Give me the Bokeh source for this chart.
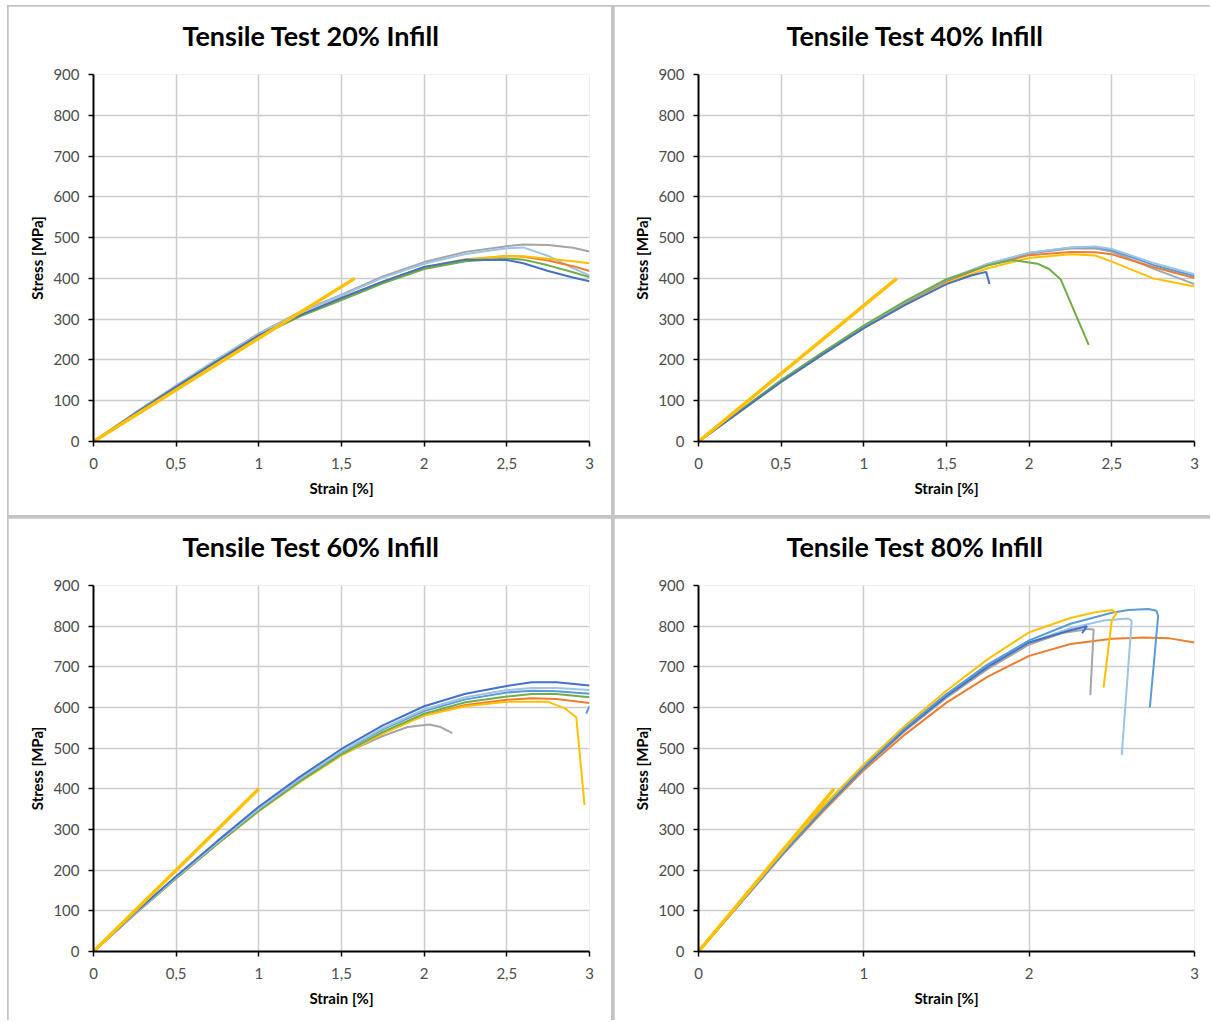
from bokeh.plotting import figure
from bokeh.layouts import gridplot
from bokeh.models import Range1d, FixedTicker, Title
from bokeh.embed import file_html
from bokeh.resources import INLINE

# ---------------- data ----------------
# Panel 20 % infill
p20_strain = [0, 0.25, 0.5, 0.75, 1.0, 1.25, 1.5, 1.75, 2.0, 2.25, 2.5, 2.6, 2.75, 2.9, 3.0]
p20_gray = [0, 70, 137, 202, 265, 318, 360, 405, 440, 465, 479, 483, 482, 475, 466]
p20_lightblue = [0, 70, 137, 202, 264, 316, 358, 402, 436, 460, 474, 476, 455, 425, 407]
p20_orange = [0, 68, 134, 198, 260, 310, 352, 392, 427, 446, 455, 453, 444, 430, 418]
p20_green = [0, 68, 133, 197, 258, 307, 347, 388, 423, 442, 449, 446, 432, 415, 403]
p20_yellow = [0, 68, 134, 198, 260, 310, 352, 392, 428, 447, 455, 454, 448, 442, 437]
p20_blue = [0, 68, 134, 198, 260, 310, 352, 392, 428, 446, 445, 437, 418, 402, 393]
p20_fit_strain = [0, 1.58]
p20_fit = [0, 400]

# Panel 40 % infill
p40_strain = [0, 0.25, 0.5, 0.75, 1.0, 1.25, 1.5, 1.75, 2.0, 2.25, 2.4, 2.5, 2.75, 3.0]
p40_lightblue = [0, 75, 150, 218, 283, 343, 397, 436, 463, 476, 478, 472, 438, 410]
p40_midblue = [0, 75, 150, 218, 283, 342, 396, 435, 462, 475, 477, 469, 433, 406]
p40_orange = [0, 74, 148, 216, 281, 340, 393, 432, 457, 465, 464, 459, 428, 401]
p40_gray = [0, 74, 148, 216, 281, 341, 395, 435, 461, 473, 473, 466, 424, 386]
p40_yellow = [0, 73, 146, 213, 278, 335, 388, 425, 450, 459, 456, 441, 400, 380]
p40_green_strain = [0, 0.25, 0.5, 0.75, 1.0, 1.25, 1.5, 1.75, 1.9, 2.05, 2.12, 2.19, 2.36]
p40_green = [0, 75, 150, 218, 284, 344, 398, 432, 445, 436, 423, 398, 237]
p40_blue_strain = [0, 0.25, 0.5, 0.75, 1.0, 1.25, 1.5, 1.65, 1.74, 1.76]
p40_blue = [0, 73, 146, 213, 278, 335, 386, 407, 416, 386]
p40_fit_strain = [0, 1.2]
p40_fit = [0, 400]

# Panel 60 % infill
p60_strain = [0, 0.25, 0.5, 0.75, 1.0, 1.25, 1.5, 1.75, 2.0, 2.25, 2.5, 2.65, 2.8, 3.0]
p60_blue = [0, 95, 185, 272, 356, 430, 498, 556, 603, 634, 653, 662, 662, 654]
p60_lightblue = [0, 93, 182, 268, 351, 425, 492, 549, 595, 625, 643, 648, 648, 643]
p60_midblue = [0, 93, 182, 268, 350, 424, 490, 546, 591, 620, 637, 641, 640, 634]
p60_green = [0, 92, 180, 265, 346, 419, 485, 540, 585, 613, 627, 633, 633, 625]
p60_orange = [0, 92, 180, 265, 346, 419, 485, 538, 581, 606, 619, 623, 621, 611]
p60_yellow_strain = [0, 0.25, 0.5, 0.75, 1.0, 1.25, 1.5, 1.75, 2.0, 2.25, 2.5, 2.75, 2.85, 2.92, 2.97]
p60_yellow = [0, 92, 180, 265, 345, 417, 482, 536, 580, 603, 614, 614, 598, 576, 360]
p60_gray_strain = [0, 0.25, 0.5, 0.75, 1.0, 1.25, 1.5, 1.75, 1.9, 2.03, 2.1, 2.17]
p60_gray = [0, 92, 180, 265, 346, 418, 484, 530, 552, 558, 552, 537]
p60_hook_strain = [2.98, 3.0]
p60_hook = [585, 603]
p60_fit_strain = [0, 1.0]
p60_fit = [0, 400]

# Panel 80 % infill
p80_orange_strain = [0, 0.25, 0.5, 0.75, 1.0, 1.25, 1.5, 1.75, 2.0, 2.25, 2.5, 2.7, 2.85, 3.0]
p80_orange = [0, 117, 234, 343, 446, 534, 612, 676, 727, 756, 769, 772, 770, 760]
p80_gray_strain = [0, 0.25, 0.5, 0.75, 1.0, 1.25, 1.5, 1.75, 2.0, 2.2, 2.36, 2.39, 2.37]
p80_gray = [0, 117, 235, 347, 450, 543, 624, 695, 755, 783, 793, 792, 630]
p80_lightblue_strain = [0, 0.25, 0.5, 0.75, 1.0, 1.25, 1.5, 1.75, 2.0, 2.25, 2.45, 2.6, 2.62, 2.56]
p80_lightblue = [0, 117, 235, 348, 452, 547, 629, 702, 760, 795, 814, 819, 813, 483]
p80_blue_strain = [0, 0.25, 0.5, 0.75, 1.0, 1.25, 1.5, 1.75, 2.0, 2.25, 2.35, 2.32]
p80_blue = [0, 118, 236, 348, 452, 546, 628, 700, 760, 790, 800, 783]
p80_midblue_strain = [0, 0.25, 0.5, 0.75, 1.0, 1.25, 1.5, 1.75, 2.0, 2.25, 2.5, 2.6, 2.72, 2.77, 2.78, 2.73]
p80_midblue = [0, 118, 237, 350, 455, 550, 633, 706, 765, 806, 833, 840, 842, 838, 825, 600]
p80_yellow_strain = [0, 0.25, 0.5, 0.75, 1.0, 1.25, 1.5, 1.75, 2.0, 2.25, 2.4, 2.5, 2.53, 2.5, 2.45]
p80_yellow = [0, 122, 243, 356, 460, 556, 641, 719, 785, 820, 834, 840, 832, 815, 649]
p80_fit_strain = [0, 0.82]
p80_fit = [0, 400]

titles = ["Tensile Test 20% Infill", "Tensile Test 40% Infill",
          "Tensile Test 60% Infill", "Tensile Test 80% Infill"]
x_ticks_fine = [0, 0.5, 1, 1.5, 2, 2.5, 3]
x_tick_labels_fine = ["0", "0,5", "1", "1,5", "2", "2,5", "3"]
x_ticks_coarse = [0, 1, 2, 3]
x_tick_labels_coarse = ["0", "1", "2", "3"]
y_ticks = [0, 100, 200, 300, 400, 500, 600, 700, 800, 900]

# ---------------- style ----------------
BLUE = "#4472C4"
MIDBLUE = "#5B9BD5"
LIGHTBLUE = "#9DC3E6"
ORANGE = "#ED7D31"
GRAY = "#A5A5A5"
YELLOW = "#FFC000"
GREEN = "#70AD47"
FONT = "Lato"


def make_panel(title, ticks, tick_labels, size, borders, title_offset, curves, fit):
    w, h = size
    left, right, top, bottom = borders
    p = figure(width=w, height=h, output_backend="svg", toolbar_location=None,
               x_range=Range1d(0, 3), y_range=Range1d(0, 900),
               min_border_left=left, min_border_right=right,
               min_border_top=top, min_border_bottom=bottom)
    p.title = None
    # blank spacer between frame and title (added first -> nearest the frame)
    p.add_layout(Title(text=" ", text_font=FONT, text_font_size="17px", standoff=0), "above")
    p.add_layout(Title(text=title, align="left", offset=title_offset, standoff=0,
                       text_font=FONT, text_font_size="27px", text_font_style="bold",
                       text_color="black"), "above")
    p.outline_line_color = None
    p.background_fill_color = "white"
    p.border_fill_color = "white"

    p.xaxis.ticker = FixedTicker(ticks=ticks)
    p.xaxis.major_label_overrides = {t: l for t, l in zip(ticks, tick_labels)}
    p.yaxis.ticker = FixedTicker(ticks=y_ticks)
    p.xaxis.axis_label = "Strain [%]"
    p.yaxis.axis_label = "Stress [MPa]"
    for ax in (p.xaxis[0], p.yaxis[0]):
        ax.axis_line_color = "black"
        ax.axis_line_width = 2
        ax.major_tick_line_color = "black"
        ax.major_tick_line_width = 1.5
        ax.major_tick_out = 5
        ax.major_tick_in = 0
        ax.minor_tick_line_color = None
        ax.major_label_text_font = FONT
        ax.major_label_text_font_size = "15px"
        ax.major_label_text_color = "#4d4d4d"
        ax.axis_label_text_font = FONT
        ax.axis_label_text_font_size = "15px"
        ax.axis_label_text_font_style = "bold"
        ax.axis_label_text_color = "black"
    p.xaxis.major_label_standoff = 11
    p.yaxis.major_label_standoff = 9
    p.xaxis.axis_label_standoff = 7
    p.yaxis.axis_label_standoff = 4

    p.xgrid.grid_line_color = "#cccccc"
    p.ygrid.grid_line_color = "#cccccc"
    p.xgrid.grid_line_width = 1.5
    p.ygrid.grid_line_width = 1.5

    for xs, ys, color in curves:
        p.line(xs, ys, line_color=color, line_width=2)
    p.line(fit[0], fit[1], line_color=YELLOW, line_width=3.5)
    return p


p1 = make_panel(titles[0], x_ticks_fine, x_tick_labels_fine, (603, 509), (85, 22, 68, 74), 89, [
    (p20_strain, p20_gray, GRAY),
    (p20_strain, p20_lightblue, LIGHTBLUE),
    (p20_strain, p20_orange, ORANGE),
    (p20_strain, p20_yellow, YELLOW),
    (p20_strain, p20_green, GREEN),
    (p20_strain, p20_blue, BLUE),
], (p20_fit_strain, p20_fit))

p2 = make_panel(titles[1], x_ticks_fine, x_tick_labels_fine, (596, 509), (84, 16, 68, 74), 88, [
    (p40_strain, p40_gray, GRAY),
    (p40_strain, p40_orange, ORANGE),
    (p40_strain, p40_yellow, YELLOW),
    (p40_strain, p40_midblue, MIDBLUE),
    (p40_strain, p40_lightblue, LIGHTBLUE),
    (p40_green_strain, p40_green, GREEN),
    (p40_blue_strain, p40_blue, BLUE),
], (p40_fit_strain, p40_fit))

p3 = make_panel(titles[2], x_ticks_fine, x_tick_labels_fine, (603, 502), (85, 22, 67, 69), 89, [
    (p60_gray_strain, p60_gray, GRAY),
    (p60_strain, p60_orange, ORANGE),
    (p60_yellow_strain, p60_yellow, YELLOW),
    (p60_strain, p60_green, GREEN),
    (p60_strain, p60_midblue, MIDBLUE),
    (p60_strain, p60_lightblue, LIGHTBLUE),
    (p60_strain, p60_blue, BLUE),
    (p60_hook_strain, p60_hook, MIDBLUE),
], (p60_fit_strain, p60_fit))

p4 = make_panel(titles[3], x_ticks_coarse, x_tick_labels_coarse, (596, 502), (84, 16, 67, 68), 88, [
    (p80_orange_strain, p80_orange, ORANGE),
    (p80_gray_strain, p80_gray, GRAY),
    (p80_lightblue_strain, p80_lightblue, LIGHTBLUE),
    (p80_blue_strain, p80_blue, BLUE),
    (p80_midblue_strain, p80_midblue, MIDBLUE),
    (p80_yellow_strain, p80_yellow, YELLOW),
], (p80_fit_strain, p80_fit))

grid = gridplot([[p1, p2], [p3, p4]], toolbar_location=None)
grid.spacing = 3
grid.styles = {"background-color": "#c4c4c4", "padding": "1px 0px 0px 1px",
               "margin-left": "7px", "margin-top": "5px"}

open("out.html", "w").write(file_html(grid, INLINE))
